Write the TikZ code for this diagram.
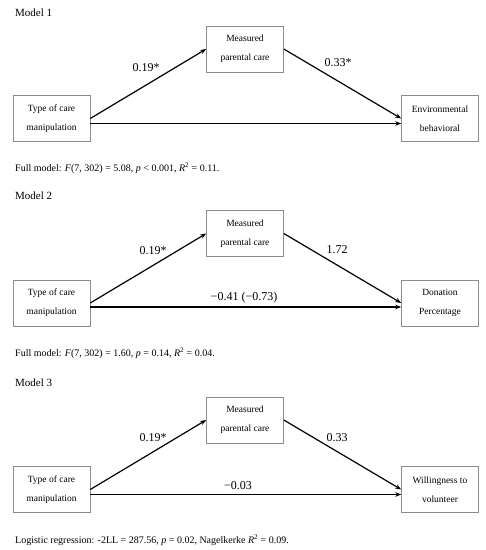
\documentclass[tikz,border=0pt]{standalone}
\usepackage{fontspec}
\setmainfont{Liberation Serif}
\usetikzlibrary{arrows.meta}
\begin{document}
\begin{tikzpicture}[x=1pt,y=-1pt,
  box/.style={draw=black!45, line width=0.6pt, minimum width=77pt, minimum height=46pt, align=center, inner sep=0pt, font=\fontsize{9.5}{19}\selectfont},
  conn/.style={line width=1.2pt, -{Stealth[length=6pt,width=4.5pt]}},
  coef/.style={font=\fontsize{12}{14}\selectfont, inner sep=0pt},
  title/.style={font=\fontsize{11}{13}\selectfont, anchor=west, inner sep=0pt},
  note/.style={font=\fontsize{10}{12}\selectfont, anchor=west, inner sep=0pt}]
\useasboundingbox[fill=white] (0,0) rectangle (486,550);

% Model 1
\node[title] (t1) at (15,13) {Model 1};
\node[box] (x1) at (51.5,118.5) {Type of care\\manipulation};
\node[box] (m1) at (245,49) {Measured\\parental care};
\node[box] (y1) at (440,118.5) {Environmental\\behavioral};
\draw[conn] (x1.east) -- (m1.west);
\draw[conn] (m1.east) -- (y1.west);
\draw[conn] ([yshift=-5pt]x1.east) -- ([yshift=-5pt]y1.west);
\node[coef] (a1) at (146,68) {0.19*};
\node[coef] (b1) at (338,63) {0.33*};
\node[note] (n1) at (15,168) {Full model: \textit{F}(7, 302) = 5.08, \textit{p} < 0.001, \textit{R}\textsuperscript{2} = 0.11.};

% Model 2
\node[title] (t2) at (15,196) {Model 2};
\node[box] (x2) at (51.5,303) {Type of care\\manipulation};
\node[box] (m2) at (245,233.5) {Measured\\parental care};
\node[box] (y2) at (440,303) {Donation\\Percentage};
\draw[conn] (x2.east) -- (m2.west);
\draw[conn] (m2.east) -- (y2.west);
\draw[conn] ([yshift=-4pt]x2.east) -- ([yshift=-4pt]y2.west);
\node[coef] (a2) at (153,251) {0.19*};
\node[coef] (b2) at (337,250) {1.72};
\node[coef] (c2) at (244,298) {−0.41 (−0.73)};
\node[note] (n2) at (15,353) {Full model: \textit{F}(7, 302) = 1.60, \textit{p} = 0.14, \textit{R}\textsuperscript{2} = 0.04.};

% Model 3
\node[title] (t3) at (15,383) {Model 3};
\node[box] (x3) at (51.5,489.5) {Type of care\\manipulation};
\node[box] (m3) at (245,420) {Measured\\parental care};
\node[box] (y3) at (440,489.5) {Willingness to\\volunteer};
\draw[conn] (x3.east) -- (m3.west);
\draw[conn] (m3.east) -- (y3.west);
\draw[conn] ([yshift=-5pt]x3.east) -- ([yshift=-5pt]y3.west);
\node[coef] (a3) at (153,438) {0.19*};
\node[coef] (b3) at (337,438) {0.33};
\node[coef] (c3) at (238,486) {−0.03};
\node[note] (n3) at (15,540) {Logistic regression: -2LL = 287.56, \textit{p} = 0.02, Nagelkerke \textit{R}\textsuperscript{2} = 0.09.};
\end{tikzpicture}
\end{document}
